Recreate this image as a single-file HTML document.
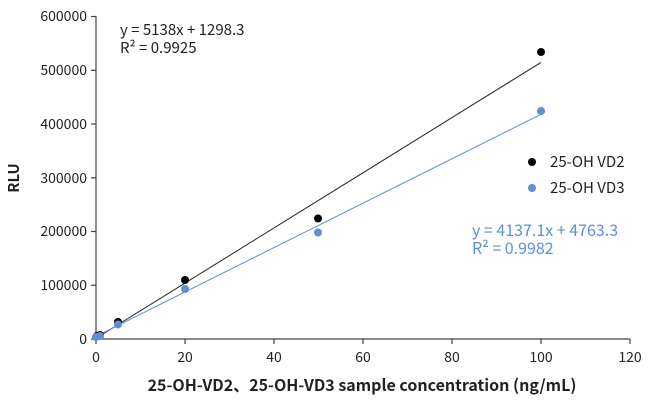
<!DOCTYPE html>
<html><head><meta charset="utf-8"><style>
body{margin:0;background:#fff;}
svg text{font-family:"Noto Sans CJK SC","Liberation Sans",sans-serif;}
</style></head><body>
<svg width="651" height="406" xmlns="http://www.w3.org/2000/svg">
<g stroke="#444" stroke-width="1.2" fill="none">
<line x1="96" y1="16" x2="96" y2="339"/>
<line x1="96" y1="339" x2="630" y2="339"/>
<line x1="91" y1="339" x2="96" y2="339"/>
<line x1="91" y1="285.3" x2="96" y2="285.3"/>
<line x1="91" y1="231.5" x2="96" y2="231.5"/>
<line x1="91" y1="177.8" x2="96" y2="177.8"/>
<line x1="91" y1="124" x2="96" y2="124"/>
<line x1="91" y1="70.3" x2="96" y2="70.3"/>
<line x1="91" y1="16.5" x2="96" y2="16.5"/>
<line x1="96" y1="339" x2="96" y2="344"/>
<line x1="185" y1="339" x2="185" y2="344"/>
<line x1="274" y1="339" x2="274" y2="344"/>
<line x1="363" y1="339" x2="363" y2="344"/>
<line x1="452" y1="339" x2="452" y2="344"/>
<line x1="541" y1="339" x2="541" y2="344"/>
<line x1="630" y1="339" x2="630" y2="344"/>
</g>
<g font-size="14" fill="#222" text-anchor="end">
<text x="87" y="344">0</text>
<text x="87" y="290">100000</text>
<text x="87" y="236">200000</text>
<text x="87" y="183">300000</text>
<text x="87" y="129">400000</text>
<text x="87" y="75">500000</text>
<text x="87" y="21">600000</text>
</g>
<g font-size="14" fill="#222" text-anchor="middle">
<text x="96" y="362">0</text>
<text x="185" y="362">20</text>
<text x="274" y="362">40</text>
<text x="363" y="362">60</text>
<text x="452" y="362">80</text>
<text x="541" y="362">100</text>
<text x="630" y="362">120</text>
</g>
<text x="362" y="391" font-size="16" font-weight="bold" text-anchor="middle" fill="#222">25-OH-VD2、25-OH-VD3 sample concentration (ng/mL)</text>
<text x="19" y="178" font-size="15" font-weight="bold" text-anchor="middle" fill="#222" transform="rotate(-90 19 178)">RLU</text>
<line x1="96" y1="338.3" x2="541" y2="62.4" stroke="#222" stroke-width="1"/>
<line x1="96" y1="336.4" x2="541" y2="114.3" stroke="#5b8fd6" stroke-width="1"/>
<g fill="#000">
<circle cx="97" cy="336" r="4"/><circle cx="100" cy="335" r="4"/>
<circle cx="118" cy="322" r="4"/><circle cx="185" cy="280" r="4"/>
<circle cx="318" cy="218.5" r="4"/><circle cx="541" cy="52" r="4"/>
</g>
<g fill="#5b8fd6">
<circle cx="96" cy="337" r="4"/><circle cx="100" cy="336" r="4"/>
<circle cx="118" cy="324.5" r="4"/><circle cx="185" cy="289" r="4"/>
<circle cx="318" cy="232.5" r="4"/><circle cx="541" cy="111" r="4"/>
</g>
<circle cx="532" cy="162" r="4" fill="#000"/>
<text x="550" y="167" font-size="15" fill="#222">25-OH VD2</text>
<circle cx="532" cy="188" r="4" fill="#5b8fd6"/>
<text x="550" y="193" font-size="15" fill="#222">25-OH VD3</text>
<text x="120" y="35" font-size="15" fill="#222">y = 5138x + 1298.3</text>
<text x="120" y="53" font-size="15" fill="#222">R² = 0.9925</text>
<text x="472" y="236" font-size="16" fill="#5b8fd6">y = 4137.1x + 4763.3</text>
<text x="472" y="254" font-size="16" fill="#5b8fd6">R² = 0.9982</text>
</svg>
</body></html>
